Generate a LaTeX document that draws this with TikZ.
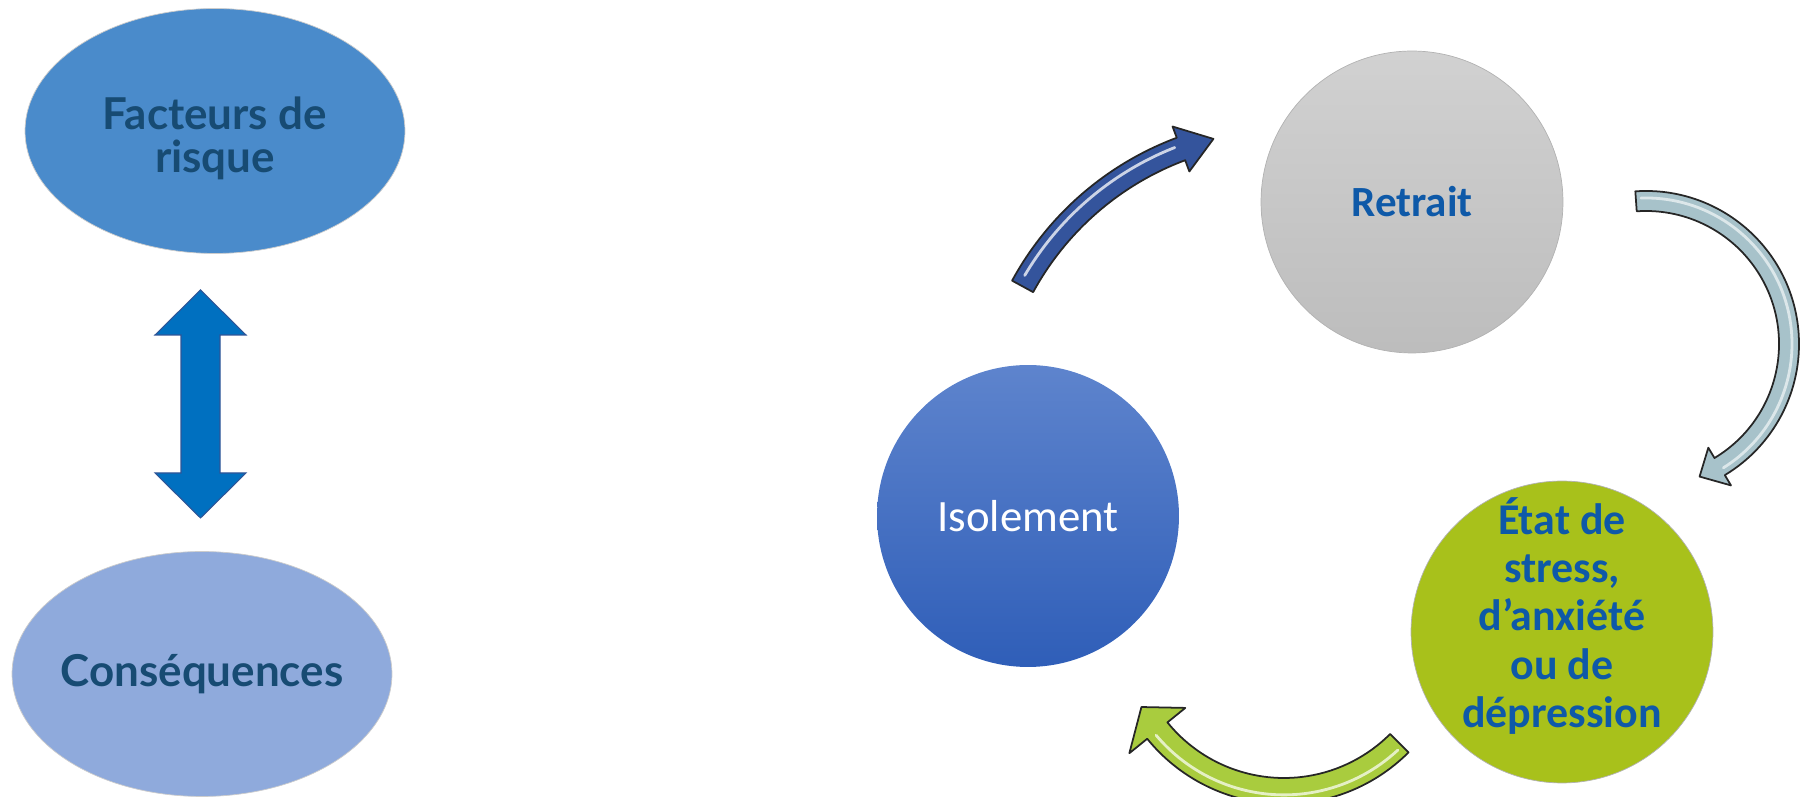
\documentclass[tikz,border=0pt]{standalone}
\usepackage{fontspec}
\setmainfont{Carlito}
\newfontfamily\gillfont{Lato}
\usetikzlibrary{calc,shapes.geometric}
\definecolor{riskblue}{HTML}{4A8BCB}
\definecolor{csqblue}{HTML}{8FAADC}
\definecolor{linkblue}{HTML}{0070C0}
\definecolor{linkedge}{HTML}{2F5597}
\definecolor{inkblue}{HTML}{174B73}
\definecolor{textblue}{HTML}{0E59A8}
\definecolor{isotop}{HTML}{5E84CD}
\definecolor{isobot}{HTML}{2F5EB8}
\definecolor{lime}{HTML}{A8C11B}
\definecolor{navy}{HTML}{34549C}
\definecolor{steel}{HTML}{A7C2CA}
\definecolor{leaf}{HTML}{A9CC3E}
% #1 fill, #2 highlight, #3 centre, #4 radius, #5 half width,
% #6 head half width, #7 tail angle, #8 head angle, #9 tip angle
\newcommand{\bentarrow}[9]{%
  \begin{scope}[shift={#3}]
    \draw[fill=#1, draw=black!85, line width=1pt, line join=round]
      ({#7}:{#4+#5}) arc[start angle=#7, end angle=#8, radius=#4+#5]
      -- ({#8}:{#4+#6}) -- ({#9}:{#4}) -- ({#8}:{#4-#6}) -- ({#8}:{#4-#5})
      arc[start angle=#8, end angle=#7, radius=#4-#5] -- cycle;
    \draw[#2, line width=1.6pt, line cap=round]
      ({#7-2}:{#4+#5*0.3}) arc[start angle=#7-2, end angle=#8+1, radius=#4+#5*0.3];
  \end{scope}}

\begin{document}
\begin{tikzpicture}[x=0.02cm, y=0.02cm]
  \tikzstyle{oval}=[ellipse, inner sep=-0.4cm, minimum width=7.6cm, minimum height=4.9cm,
    draw=black!20, line width=0.4pt, font=\gillfont\bfseries\fontsize{25}{25}\selectfont,
    text=inkblue, align=center]
  \tikzstyle{stage}=[circle, inner sep=0pt, minimum size=6.04cm, draw=black!30,
    line width=0.4pt, align=center, font=\bfseries\fontsize{24.5}{27.3}\selectfont, text=textblue]

  \useasboundingbox (0,0) rectangle (1806,797);
  \clip (0,0) rectangle (1806,797);

  % left part
  \node[oval, fill=riskblue] (risk) at (215,666) {\rule{0pt}{27pt}Facteurs de\\risque};
  \node[oval, fill=csqblue] (csq) at (202,123) {Conséquences};

  \coordinate (up) at (200.5,507);
  \coordinate (dn) at (200.5,279);
  \draw[fill=linkblue, draw=linkedge, line width=0.6pt]
    (up) -- ++(45.5,-45) -- ++(-26,0) -- ($(dn)+(19.5,45)$) -- ++(26,0)
    -- (dn) -- ++(-45.5,45) -- ++(26,0) -- ($(up)+(-19.5,-45)$) -- ++(-26,0) -- cycle;

  % cycle
  \node[stage, top color=black!18, bottom color=black!26] (retrait) at (1412,595) {Retrait};
  \node[stage, top color=isotop, bottom color=isobot, draw=none, text=white,
    font=\fontsize{25.5}{27.3}\selectfont] (iso) at (1028,281) {Isolement};
  \node[stage, fill=lime] (etat) at (1562,165) {};
  \node[align=center, text=textblue, font=\bfseries\fontsize{25}{27.4}\selectfont]
    (etat-text) at ($(etat)+(0,16)$) {État de\\stress,\\d’anxiété\\ou de\\dépression};

  \bentarrow{navy}{white!75!navy}{(1286,367)}{300}{12}{24}{151.4}{110.5}{104}
  \bentarrow{steel}{white!60!steel}{(1646,453)}{143}{10}{22}{94}{-59}{-68}
  \bentarrow{leaf}{white!70!leaf}{(1284,169)}{163}{13}{36}{-45}{-141}{-151}
\end{tikzpicture}
\end{document}
